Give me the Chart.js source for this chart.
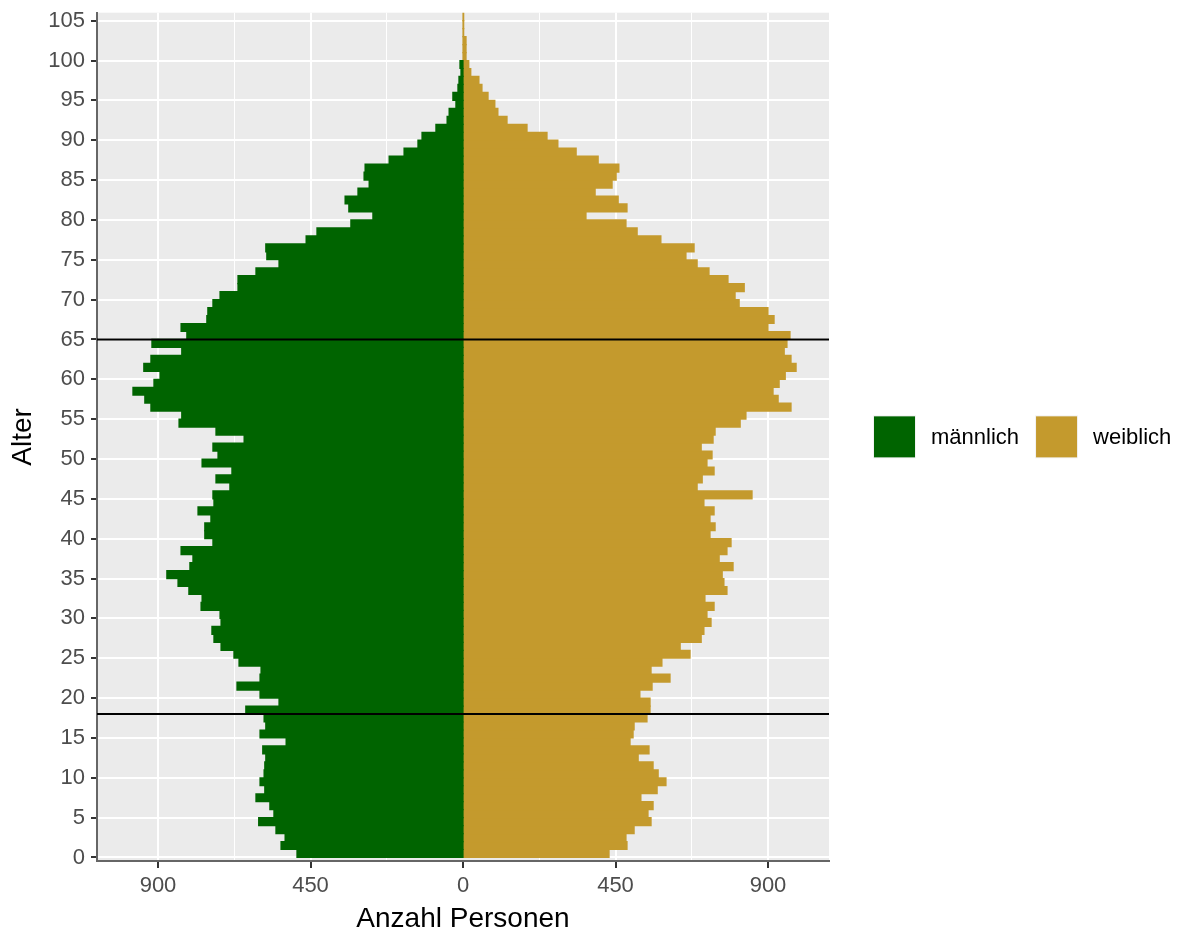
<!DOCTYPE html>
<html>
<head>
<meta charset="utf-8">
<script src="https://cdn.jsdelivr.net/npm/chart.js@4.4.1/dist/chart.umd.min.js"></script>
<style>
  html, body { margin: 0; padding: 0; background: #ffffff; }
</style>
</head>
<body>
<canvas id="myChart" width="1182" height="933"></canvas>
<script>
// Altersjahre (Balken a reicht von a bis a+1)
var ages = [0, 1, 2, 3, 4, 5, 6, 7, 8, 9, 10, 11, 12, 13, 14, 15, 16, 17, 18, 19,
    20, 21, 22, 23, 24, 25, 26, 27, 28, 29, 30, 31, 32, 33, 34, 35, 36, 37, 38, 39,
    40, 41, 42, 43, 44, 45, 46, 47, 48, 49, 50, 51, 52, 53, 54, 55, 56, 57, 58, 59,
    60, 61, 62, 63, 64, 65, 66, 67, 68, 69, 70, 71, 72, 73, 74, 75, 76, 77, 78, 79,
    80, 81, 82, 83, 84, 85, 86, 87, 88, 89, 90, 91, 92, 93, 94, 95, 96, 97, 98, 99,
    100, 101, 102, 103, 104, 105];

var maennlich = [490, 537, 525, 552, 603, 558, 570, 611, 585, 599,
    587, 585, 582, 591, 522, 599, 582, 587, 641, 543,
    599, 667, 599, 596, 661, 676, 714, 735, 741, 714,
    717, 773, 770, 809, 841, 874, 806, 797, 832, 738,
    762, 762, 744, 782, 735, 738, 688, 729, 682, 770,
    723, 738, 646, 729, 838, 830, 921, 939, 974, 912,
    894, 942, 921, 830, 918, 815, 832, 756, 753, 738,
    717, 664, 664, 611, 543, 579, 582, 463, 431, 331,
    266, 337, 348, 310, 277, 292, 289, 218, 174, 133,
    121, 80, 47, 41, 21, 30, 15, 12, 6, 9,
    0, 0, 0, 0, 0, 0];

var weiblich = [431, 484, 481, 505, 555, 546, 561, 525, 573, 599,
    576, 561, 517, 549, 493, 502, 505, 543, 552, 552,
    522, 558, 611, 555, 587, 670, 641, 703, 711, 732,
    720, 741, 714, 779, 770, 765, 797, 756, 779, 791,
    729, 744, 729, 741, 711, 853, 691, 706, 741, 720,
    735, 703, 738, 744, 818, 835, 968, 930, 915, 933,
    951, 983, 968, 948, 956, 965, 900, 918, 900, 815,
    803, 830, 782, 726, 691, 658, 682, 584, 514, 481,
    363, 484, 458, 390, 440, 452, 460, 399, 334, 280,
    248, 189, 130, 103, 94, 74, 56, 47, 23, 17,
    9, 9, 9, 2, 2, 2];

var ageTicks = [0, 5, 10, 15, 20, 25, 30, 35, 40, 45, 50, 55, 60, 65, 70, 75, 80, 85, 90, 95, 100, 105];
var countTicks = [-900, -675, -450, -225, 0, 225, 450, 675, 900];
var labeledTicks = [-900, -450, 0, 450, 900];
var refLines = [18, 65];
var seriesNames = ['männlich', 'weiblich'];
var seriesColors = ['#006400', '#C49A2D'];

Chart.defaults.font.family = "'Liberation Sans', Arial, sans-serif";

var panelBg = {
    id: 'panelBg',
    beforeDraw: function (chart) {
        var a = chart.chartArea, c = chart.ctx;
        c.save();
        c.fillStyle = '#EBEBEB';
        c.fillRect(a.left, a.top, a.right - a.left, a.bottom - a.top);
        c.restore();
    }
};

var hLines = {
    id: 'hLines',
    afterDatasetsDraw: function (chart) {
        var a = chart.chartArea, c = chart.ctx, y = chart.scales.y;
        c.save();
        c.strokeStyle = '#000000';
        c.lineWidth = 2;
        refLines.forEach(function (v) {
            var py = y.getPixelForValue(v);
            c.beginPath();
            c.moveTo(a.left, py);
            c.lineTo(a.right, py);
            c.stroke();
        });
        c.restore();
    }
};

var sideLegend = {
    id: 'sideLegend',
    afterDraw: function (chart) {
        var a = chart.chartArea, c = chart.ctx;
        var box = 43;
        var cy = (a.top + a.bottom) / 2;
        var x = a.right + 44;
        c.save();
        c.font = "22px 'Liberation Sans', Arial, sans-serif";
        c.textBaseline = 'middle';
        c.textAlign = 'left';
        seriesNames.forEach(function (name, i) {
            c.fillStyle = '#F2F2F2';
            c.fillRect(x, cy - box / 2, box, box);
            c.fillStyle = seriesColors[i];
            c.fillRect(x + 1, cy - box / 2 + 1, box - 2, box - 2);
            c.fillStyle = '#000000';
            c.fillText(name, x + box + 15, cy + 1);
            x += box + 15 + c.measureText(name).width + 16;
        });
        c.restore();
    }
};

function isMajor(c) {
    return c.tick && labeledTicks.indexOf(c.tick.value) >= 0;
}

var ctx = document.getElementById('myChart');
var myChart = new Chart(ctx, {
    type: 'bar',
    data: {
        datasets: [{
            label: seriesNames[0],
            data: ages.map(function (a, i) {
                return { x: maennlich[i] === 0 ? null : -maennlich[i], y: a + 0.5 };
            }),
            backgroundColor: seriesColors[0],
            borderWidth: 0,
            inflateAmount: 0.6,
            grouped: false,
            barPercentage: 1,
            categoryPercentage: 1
        }, {
            label: seriesNames[1],
            data: ages.map(function (a, i) { return { x: weiblich[i], y: a + 0.5 }; }),
            backgroundColor: seriesColors[1],
            borderWidth: 0,
            inflateAmount: 0.6,
            grouped: false,
            barPercentage: 1,
            categoryPercentage: 1
        }]
    },
    options: {
        indexAxis: 'y',
        responsive: false,
        animation: false,
        devicePixelRatio: 1,
        layout: { padding: { top: 12.7, right: 353, bottom: 0, left: 0 } },
        plugins: {
            legend: { display: false },
            tooltip: { enabled: false }
        },
        scales: {
            x: {
                type: 'linear',
                min: -1080,
                max: 1080,
                afterBuildTicks: function (s) {
                    s.ticks = countTicks.map(function (v) { return { value: v }; });
                },
                afterFit: function (s) {
                    s.height = 72;
                    s.paddingLeft = 0;
                    s.paddingRight = 0;
                },
                ticks: {
                    color: '#4D4D4D',
                    font: { size: 22 },
                    padding: 5,
                    maxRotation: 0,
                    autoSkip: false,
                    callback: function (v) {
                        return labeledTicks.indexOf(v) >= 0 ? String(Math.abs(v)) : '';
                    }
                },
                grid: {
                    color: '#FFFFFF',
                    lineWidth: function (c) {
                        if (c.tick && c.tick.value === 0) return 0;
                        return isMajor(c) ? 2 : 1;
                    },
                    tickColor: function (c) { return isMajor(c) ? '#333333' : 'rgba(0,0,0,0)'; },
                    tickLength: 7,
                    tickWidth: 2
                },
                border: { display: true, color: '#666666', width: 2 },
                title: {
                    display: true,
                    text: 'Anzahl Personen',
                    color: '#000000',
                    font: { size: 28, lineHeight: 1 },
                    padding: { top: 0, bottom: 0 }
                }
            },
            y: {
                type: 'linear',
                min: -0.44,
                max: 106,
                offset: false,
                afterBuildTicks: function (s) {
                    s.ticks = ageTicks.map(function (v) { return { value: v }; });
                },
                afterFit: function (s) {
                    s.width = 97;
                    s.paddingTop = 0;
                    s.paddingBottom = 0;
                },
                ticks: {
                    color: '#4D4D4D',
                    font: { size: 22 },
                    padding: 6,
                    autoSkip: false
                },
                grid: {
                    offset: false,
                    color: '#FFFFFF',
                    lineWidth: 2,
                    tickColor: '#333333',
                    tickLength: 6,
                    tickWidth: 2
                },
                border: { display: true, color: '#666666', width: 2 },
                title: {
                    display: true,
                    text: 'Alter',
                    color: '#000000',
                    font: { size: 28, lineHeight: 1 },
                    padding: { top: 9, bottom: 0 }
                }
            }
        }
    },
    plugins: [panelBg, hLines, sideLegend]
});
</script>
</body>
</html>
